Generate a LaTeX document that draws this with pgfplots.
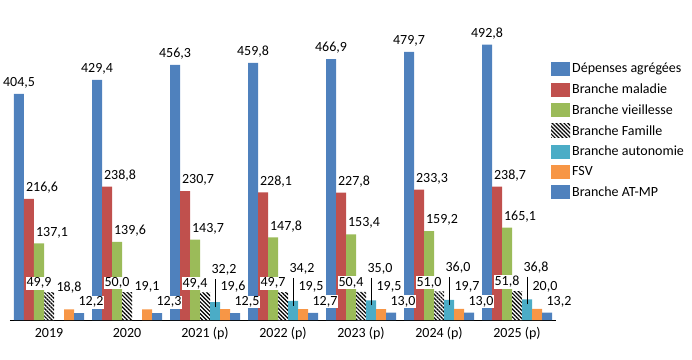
\documentclass[border=0pt]{standalone}
\usepackage{fontspec}
\setmainfont{Carlito}
\usepackage{pgfplots}
\pgfplotsset{compat=1.18}
\usepackage{pgfplotstable}
\usetikzlibrary{patterns.meta}
\definecolor{cBlue}{HTML}{4F81BD}
\definecolor{cRed}{HTML}{C0504D}
\definecolor{cGreen}{HTML}{9BBB59}
\definecolor{cCyan}{HTML}{4BACC6}
\definecolor{cOrange}{HTML}{F79646}
\newcommand{\fs}{\fontsize{14}{16}\selectfont}
\pgfplotstableread{
x dep mal vie fam aut fsv atmp fsvdx
0 404.5 216.6 137.1 49.9 nan 18.8 12.2 0
1 429.4 238.8 139.6 50.0 nan 19.1 12.3 0
2 456.3 230.7 143.7 49.4 32.2 19.6 12.5 8
3 459.8 228.1 147.8 49.7 34.2 19.5 12.7 8
4 466.9 227.8 153.4 50.4 35.0 19.5 13.0 8
5 479.7 233.3 159.2 51.0 36.0 19.7 13.0 8
6 492.8 238.7 165.1 51.8 36.8 20.0 13.2 8
}\data
\begin{document}
\begin{tikzpicture}
\path[use as bounding box] (0,0) rectangle (692pt,359pt);
\begin{axis}[
  at={(10pt,39pt)}, anchor=south west,
  scale only axis, width=546pt, height=307.45pt,
  xmin=-0.5, xmax=6.5, ymin=0, ymax=550,
  ybar=0pt, bar width=10pt,
  axis x line*=bottom, axis y line=none,
  x axis line style={-, black, line width=0.8pt},
  xtick={0,...,6},
  xticklabels={2019,2020,2021 (p),2022 (p),2023 (p),2024 (p),2025 (p)},
  major tick length=0pt,
  xticklabel style={font=\fs, anchor=base, yshift=-17.5pt},
  /pgf/number format/.cd, use comma, fixed, fixed zerofill, precision=1, assume math mode=true, /pgfplots/.cd,
  every node near coord/.append style={font=\fs, fill=white, inner sep=1pt, anchor=center},
  legend style={at={(axis description cs:0.9908,0.842)}, anchor=north west, draw=none, fill=none, font=\fs, row sep=5.5pt, inner sep=0pt},
  legend cell align=left,
  legend image code/.code={\path[#1,draw=none] (0pt,-7pt) rectangle (19pt,7pt);},
]
\addplot[fill=cBlue, draw=none, nodes near coords, every node near coord/.append style={yshift=11pt}] table[x=x,y=dep]{\data};
\addlegendentry{Dépenses agrégées}
\addplot[fill=cRed, draw=none, nodes near coords, every node near coord/.append style={xshift=13pt,yshift=11pt}] table[x=x,y=mal]{\data};
\addlegendentry{Branche maladie}
\addplot[fill=cGreen, draw=none, nodes near coords, every node near coord/.append style={xshift=13pt,yshift=11pt}] table[x=x,y=vie]{\data};
\addlegendentry{Branche vieillesse}
\addplot[draw=none, fill=white, postaction={pattern={Lines[angle=-45,distance=2.8pt,line width=1.2pt]}}, nodes near coords, every node near coord/.append style={xshift=-10pt,yshift=9pt}] table[x=x,y=fam]{\data};
\addlegendentry{Branche Famille}
\addplot[fill=cCyan, draw=none, nodes near coords, every node near coord/.append style={xshift=9pt,yshift=32pt},
  error bars/.cd, y dir=both, y explicit, error mark=none, error bar style={black, line width=0.8pt}] table[x=x,y=aut, y error plus expr=41, y error minus expr=9]{\data};
\addlegendentry{Branche autonomie}
\addplot[fill=cOrange, draw=none, nodes near coords, visualization depends on={\thisrow{fsvdx} \as \fsvdx}, every node near coord/.append style={xshift=\fsvdx pt,yshift=22pt}] table[x=x,y=fsv]{\data};
\addlegendentry{FSV}
\addplot[fill=cBlue, draw=none, nodes near coords, every node near coord/.append style={xshift=12pt,yshift=11pt}] table[x=x,y=atmp]{\data};
\addlegendentry{Branche AT-MP}
\end{axis}
\end{tikzpicture}
\end{document}
